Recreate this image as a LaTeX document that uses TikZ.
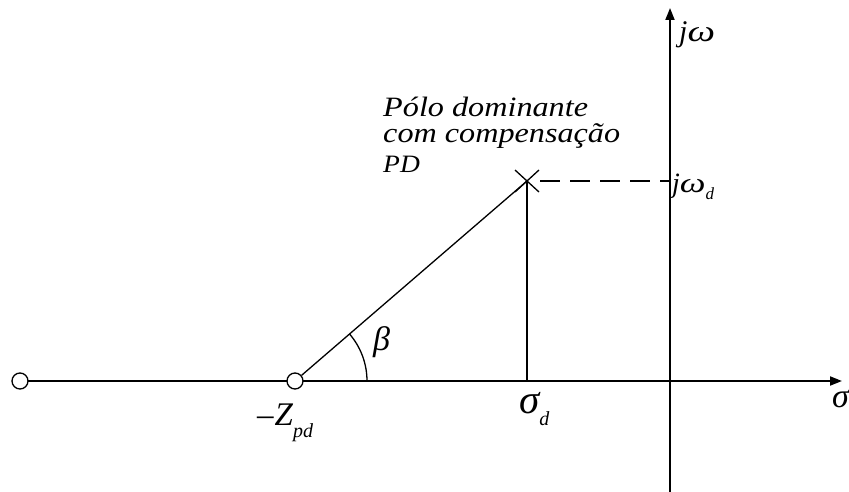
\documentclass[tikz,border=0pt]{standalone}
\usepackage{fontspec}
\setmainfont{Liberation Serif}
\usetikzlibrary{arrows.meta}
\newcommand{\wideomega}{\scalebox{1.3}[1]{ω}}
\begin{document}
\begin{tikzpicture}[x=1pt,y=-1pt,
  axis/.style={line width=1.8pt,-{Triangle[length=12pt,width=9pt]}},
  thin/.style={line width=1.3pt},
  circ/.style={circle,draw,line width=1.3pt,fill=white,minimum size=16pt,inner sep=0pt},
  lbl/.style={inner sep=0pt,anchor=base west}]
\useasboundingbox (0,0) rectangle (849,492);
% coordinates
\coordinate (hs) at (20,381);
\coordinate (he) at (842,381);
\coordinate (vs) at (670,492);
\coordinate (ve) at (670,8);
\coordinate (p) at (527,181);
\coordinate (pf) at (527,381);
\coordinate (wd) at (670,181);
% axes
\draw[axis] (hs) -- (he);
\draw[axis] (vs) -- (ve);
% zero nodes
\node[circ] (zl) at (20,381) {};
\node[circ] (z) at (295,381) {};
% lines
\draw[thin] (z) -- (p);
\draw[thin] (p) -- (pf);
\draw[line width=1.3pt,dash pattern=on 20pt off 10pt] (p) ++(13,0) -- (wd);
% angle arc
\draw[line width=1.3pt] (367,381) arc[start angle=0,end angle=-40.8,radius=72];
% pole X
\draw[line width=1.3pt] (p) ++(-12,-11) -- ++(24,22);
\draw[line width=1.3pt] (p) ++(-12,11) -- ++(24,-22);
% labels
\node[lbl,font=\fontsize{30}{30}\selectfont\itshape] (jw) at (679,42) {j\wideomega};
\node[lbl,font=\fontsize{28}{28}\selectfont\itshape] (jwd) at (672,193) {j\wideomega\raisebox{-7pt}{\fontsize{17}{17}\selectfont d}};
\node[lbl,font=\fontsize{34}{34}\selectfont\itshape] (beta) at (373,350) {β};
\node[lbl,font=\fontsize{33}{33}\selectfont\itshape] (zpd) at (257,425) {\upshape–\hspace{1pt}\itshape Z\raisebox{-12pt}{\fontsize{20}{20}\selectfont pd}};
\node[lbl,font=\fontsize{41}{41}\selectfont\itshape] (sd) at (519,413) {σ\raisebox{-12pt}{\fontsize{20}{20}\selectfont d}};
\node[lbl,font=\fontsize{34}{34}\selectfont\itshape] (s) at (832,407) {σ};
\node[lbl,font=\fontsize{28}{28}\selectfont\itshape,xscale=1.15] (t1) at (383,117) {Pólo dominante};
\node[lbl,font=\fontsize{28}{28}\selectfont\itshape,xscale=1.15] (t2) at (383,143) {com compensação};
\node[lbl,font=\fontsize{25}{25}\selectfont\itshape,xscale=1.1] (t3) at (383,172) {PD};
\end{tikzpicture}
\end{document}
